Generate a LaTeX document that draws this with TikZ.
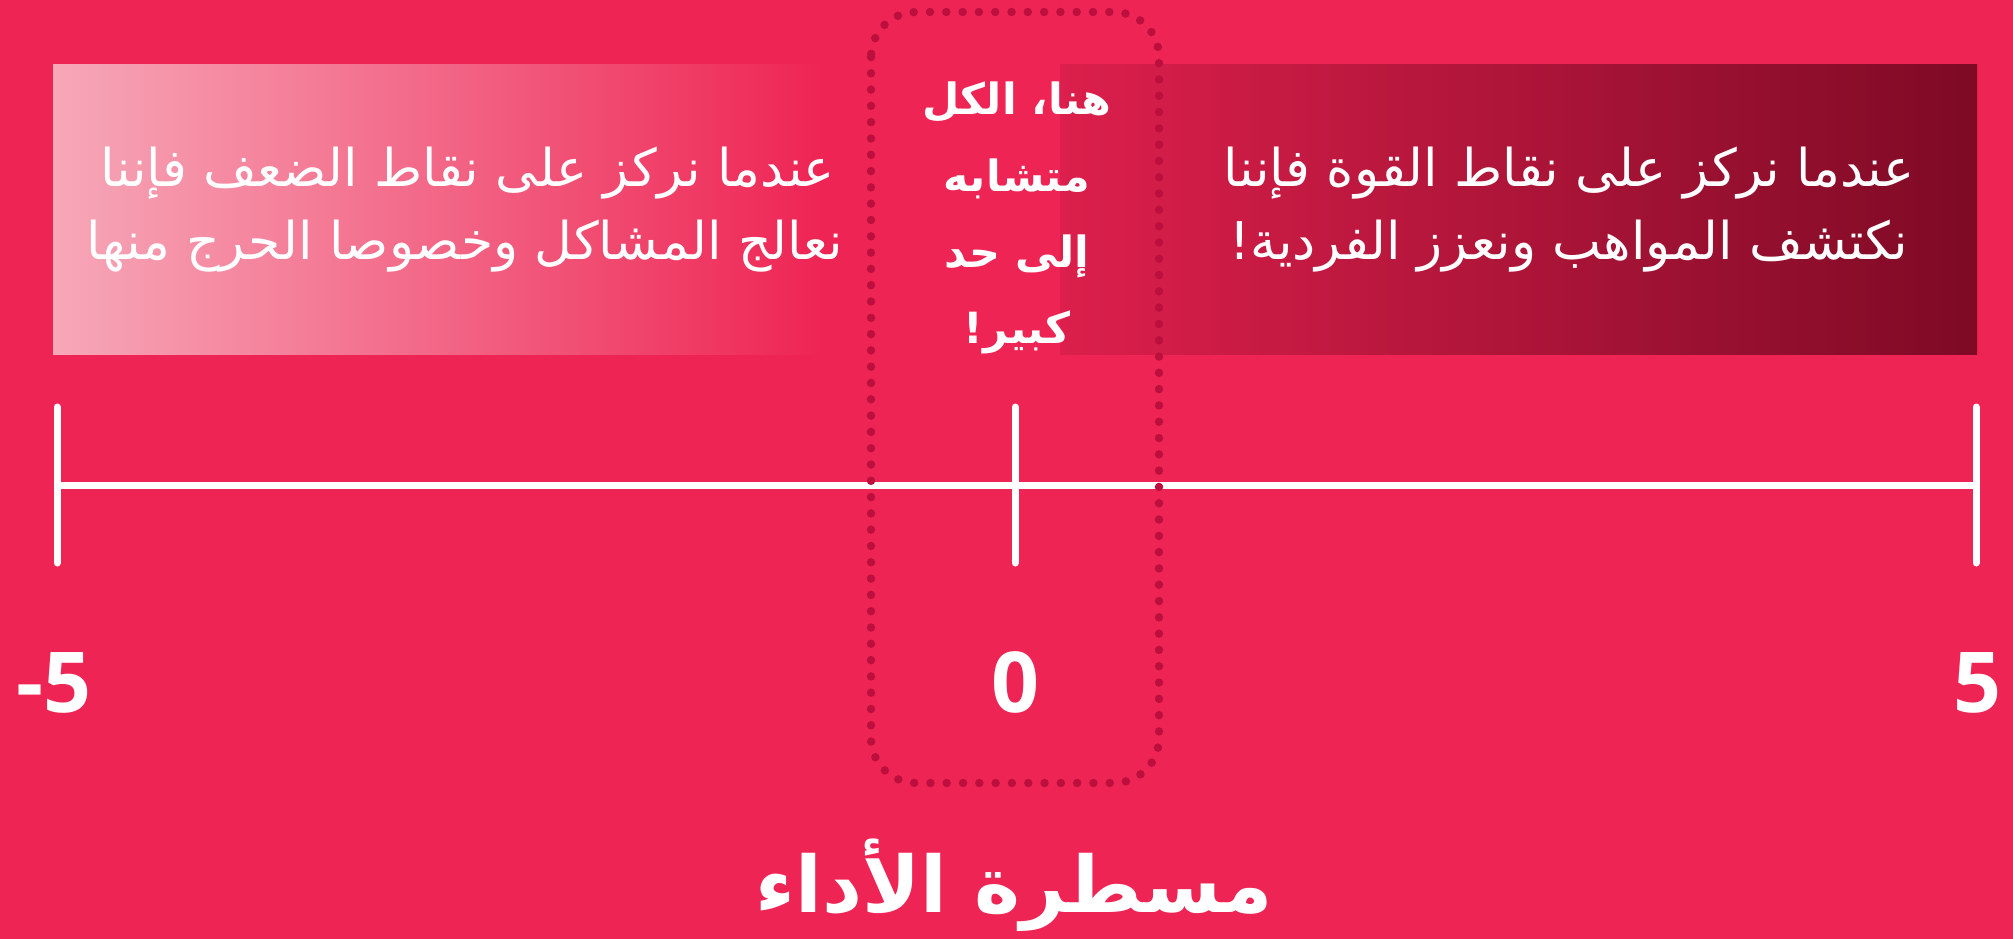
\documentclass[tikz,border=0pt]{standalone}
\usepackage{fontspec}
\TeXXeTstate=1
\newfontfamily\arabicfont[Script=Arabic]{DejaVu Sans}
\newfontfamily\numfont{Open Sans}
\definecolor{bg}{HTML}{EE2554}
\definecolor{lpink}{HTML}{F7A8B9}
\definecolor{rstart}{HTML}{DC1F4C}
\definecolor{rend}{HTML}{7E0A25}
\definecolor{dotc}{HTML}{BC0F3E}
\tikzset{
  axisline/.style={draw=white, line width=7pt},
  tickline/.style={draw=white, line width=7pt, line cap=round},
  boxtext/.style={text=white, font=\arabicfont\fontsize{52}{60}\selectfont, inner sep=0pt},
  midtext/.style={text=white, font=\arabicfont\bfseries\fontsize{43}{50}\selectfont, anchor=base, inner sep=0pt},
  numlabel/.style={text=white, font=\numfont\bfseries\fontsize{84}{90}\selectfont, anchor=base, inner sep=0pt},
  dotframe/.style={draw=dotc, line width=8.5pt, line cap=round, dash pattern=on 0pt off 16.3pt, rounded corners=45pt}
}
\begin{document}
\begin{tikzpicture}[x=1pt,y=-1pt]
\useasboundingbox (0,0) rectangle (2013,939);
\fill[bg] (0,0) rectangle (2013,939);
% boxes
\shade[left color=lpink, right color=bg] (53,65) rectangle (820,354);
\shade[left color=rstart, right color=rend] (1060,65) rectangle (1977,354);
% box texts
\node[boxtext, anchor=base east] (left1) at (835,186) {\beginR عندما نركز على نقاط الضعف فإننا\endR};
\node[boxtext, anchor=base east] (left2) at (843,259) {\beginR نعالج المشاكل وخصوصا الحرج منها\endR};
\node[boxtext, anchor=base] (right1) at (1569,186) {\beginR عندما نركز على نقاط القوة فإننا\endR};
\node[boxtext, anchor=base] (right2) at (1569,259) {\beginR نكتشف المواهب ونعزز الفردية!\endR};
% middle text
\node[midtext] (mid1) at (1017,115) {\beginR هنا، الكل\endR};
\node[midtext] (mid2) at (1017,191) {\beginR متشابه\endR};
\node[midtext] (mid3) at (1017,267) {\beginR إلى حد\endR};
\node[midtext] (mid4) at (1017,343) {\beginR كبير!\endR};
% axis
\coordinate (L) at (57,485);
\coordinate (M) at (1015,485);
\coordinate (R) at (1976,485);
\coordinate (Lt) at (57,407); \coordinate (Lb) at (57,563);
\coordinate (Mt) at (1015,407); \coordinate (Mb) at (1015,563);
\coordinate (Rt) at (1976,407); \coordinate (Rb) at (1976,563);
\draw[axisline] (L) -- (R);
\draw[tickline] (Lt) -- (Lb);
\draw[tickline] (Mt) -- (Mb);
\draw[tickline] (Rt) -- (Rb);
% dotted frame
\draw[dotframe] (871,12) rectangle (1159,783);
% numbers
\node[numlabel] (nm5) at (54,712) {-5};
\node[numlabel] (n0) at (1015,712) {0};
\node[numlabel] (n5) at (1977,712) {5};
% title
\node[text=white, font=\arabicfont\bfseries\fontsize{78}{90}\selectfont, anchor=base, inner sep=0pt] (title) at (1014,912)
  {\beginR مسطرة الأداء\endR};
\end{tikzpicture}
\end{document}
